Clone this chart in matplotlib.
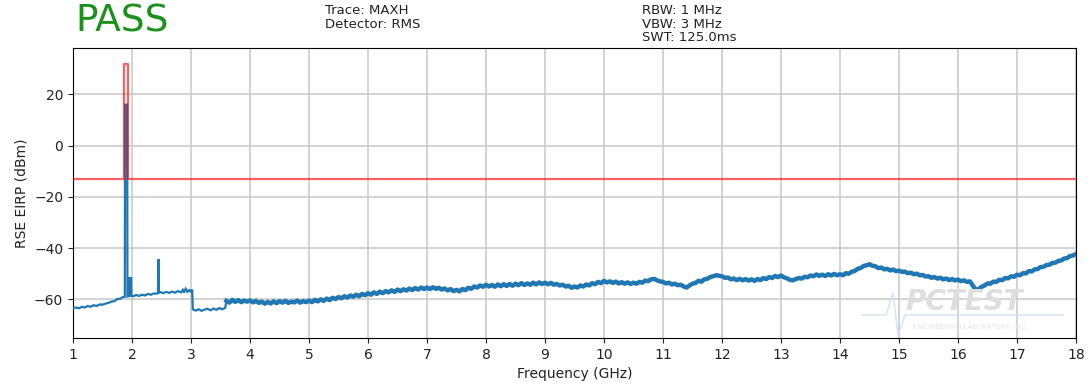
import numpy as np
import matplotlib
matplotlib.use("Agg")
import matplotlib.pyplot as plt

# --- Sweep 1-3.6 GHz (carrier region, explicit sample points) ---
freq_low_ghz = [1.00, 1.05, 1.10, 1.15, 1.20, 1.25, 1.30, 1.35, 1.40, 1.45,
                1.50, 1.55, 1.60, 1.65, 1.70, 1.75, 1.80, 1.84, 1.878, 1.883,
                1.918, 1.923, 1.935, 1.955, 1.960, 1.985, 1.990, 2.02, 2.07, 2.12,
                2.17, 2.22, 2.27, 2.32, 2.37, 2.42, 2.440, 2.448, 2.456, 2.48,
                2.53, 2.58, 2.63, 2.68, 2.73, 2.78, 2.83, 2.86, 2.88, 2.91,
                2.94, 2.97, 3.00, 3.020, 3.030, 3.08, 3.13, 3.18, 3.23, 3.28,
                3.33, 3.38, 3.43, 3.48, 3.53, 3.58]
level_low_dbm = [-63.5, -63.2, -63.5, -62.9, -63.2, -62.6, -62.9, -62.3, -62.6, -62.0,
                 -62.1, -61.7, -61.4, -60.9, -60.7, -59.9, -59.8, -59.2, -59.0, 16.0,
                 16.0, -58.9, -58.8, -58.7, -51.7, -51.7, -58.6, -58.8, -58.3, -58.7,
                 -58.2, -58.5, -57.9, -58.2, -57.7, -57.8, -57.5, -44.3, -57.4, -57.2,
                 -57.6, -57.1, -57.5, -57.0, -57.4, -56.8, -57.3, -56.3, -57.4, -55.9,
                 -57.1, -56.4, -57.0, -56.2, -63.9, -64.4, -63.9, -64.5, -64.0, -63.7,
                 -64.3, -63.6, -64.1, -63.4, -63.9, -63.3]

# --- Sweep 3.6-18 GHz, 50 MHz steps ---
level_high_dbm = [
    -60.6, -61.3, -60.2, -61.0, -60.3, -61.1, -60.5, -60.9,
    -60.4, -61.2, -60.6, -61.4, -60.9, -61.7, -61.0, -61.6, -60.8, -61.5,
    -60.7, -61.3, -60.6, -61.4, -60.9, -61.2, -60.5, -61.3, -60.7, -61.1,
    -60.5, -61.1, -60.2, -60.8, -60.0, -60.6, -59.7, -60.3, -59.4, -59.9,
    -59.1, -59.6, -58.8, -59.3, -58.5, -59.0, -58.2, -58.8, -57.9, -58.4,
    -57.6, -58.2, -57.3, -57.9, -57.0, -57.6, -56.8, -57.3, -56.5, -57.1,
    -56.2, -56.8, -56.1, -56.6, -55.8, -56.4, -55.6, -56.2, -55.4, -56.0,
    -55.4, -56.0, -55.3, -55.9, -55.5, -56.2, -55.8, -56.5, -56.0, -56.8,
    -56.3, -56.9, -56.0, -56.4, -55.5, -55.9, -55.0, -55.4, -54.6, -55.1,
    -54.3, -55.0, -54.4, -55.1, -54.2, -54.9, -54.1, -54.8, -54.0, -54.7,
    -53.9, -54.5, -53.7, -54.4, -53.8, -54.3, -53.5, -54.2, -53.4, -54.0,
    -53.5, -54.1, -53.6, -54.3, -54.0, -54.6, -54.3, -55.0, -54.7, -55.5,
    -55.0, -55.4, -54.6, -55.0, -54.2, -54.6, -53.7, -54.1, -53.2, -53.7,
    -52.8, -53.4, -53.0, -53.6, -53.1, -53.8, -53.3, -53.9, -53.4, -54.0,
    -53.5, -53.9, -53.2, -53.5, -52.7, -52.9, -52.2, -52.0, -52.6, -53.0,
    -53.2, -53.8, -53.5, -54.2, -53.9, -54.5, -54.3, -55.0, -55.4, -54.6,
    -53.9, -53.6, -52.8, -53.1, -52.2, -52.0, -51.3, -51.0, -50.6, -50.8,
    -51.0, -51.6, -51.5, -52.2, -51.9, -52.5, -52.0, -52.6, -52.1, -52.7,
    -52.2, -52.8, -52.1, -52.5, -51.7, -52.1, -51.3, -51.7, -50.9, -51.3,
    -50.7, -51.4, -51.8, -52.4, -52.6, -52.1, -51.7, -51.9, -51.2, -51.4,
    -50.7, -51.0, -50.3, -50.8, -50.4, -50.9, -50.2, -50.7, -50.1, -50.6,
    -50.2, -50.6, -49.8, -50.0, -49.2, -48.9, -48.1, -47.8, -47.0, -46.7,
    -46.3, -46.9, -47.1, -47.8, -47.6, -48.3, -48.1, -48.7, -48.4, -49.0,
    -48.8, -49.3, -49.2, -49.8, -49.6, -50.2, -50.0, -50.6, -50.5, -51.1,
    -51.0, -51.6, -51.3, -51.9, -51.6, -52.2, -51.9, -52.5, -52.1, -52.6,
    -52.3, -52.9, -52.6, -53.2, -53.0, -54.6, -56.2, -56.0, -55.1, -54.6,
    -53.8, -53.9, -53.1, -53.2, -52.4, -52.5, -51.7, -51.8, -51.0, -51.2,
    -50.4, -50.6, -49.8, -49.9, -49.0, -49.1, -48.3, -48.2, -47.4, -47.3,
    -46.6, -46.5, -45.8, -45.7, -45.0, -44.8, -44.1, -43.9, -43.1, -42.9,
    -42.3,
]
freq_high_ghz = np.linspace(3.60, 18.00, len(level_high_dbm))

# Emission limit (-13 dBm) with the fundamental-band exclusion
limit_freq_ghz = [1.0, 1.868, 1.868, 1.937, 1.937, 18.0]
limit_dbm = [-13, -13, 32, 32, -13, -13]

x_ticks = list(range(1, 19))
y_ticks = [-60, -40, -20, 0, 20]

W, H = 1088, 385
fig = plt.figure(figsize=(W / 100, H / 100), dpi=100)
ax = fig.add_axes([73 / W, 1 - 338 / H, (1076 - 73) / W, (338 - 48) / H])

trace_color = "#1f77b4"
# Low band is a clean, thin trace; above 3.6 GHz the noise floor forms a dense band
ax.plot(list(freq_low_ghz) + [freq_high_ghz[0]],
        list(level_low_dbm) + [level_high_dbm[0]],
        color=trace_color, lw=1.6, zorder=3, solid_joinstyle="miter")
ax.plot(freq_high_ghz, level_high_dbm, color=trace_color, lw=3.2, zorder=3)
ax.plot(limit_freq_ghz, limit_dbm, color="red", alpha=0.62, lw=1.6, zorder=4)

ax.set_xlim(1, 18)
ax.set_ylim(-75.1, 38.1)
ax.set_xticks(x_ticks)
ax.set_yticks(y_ticks)
ax.grid(True, color="#c8c8c8", lw=1.1)
ax.set_axisbelow(True)
ax.tick_params(labelsize=10, colors="#222222")
ax.set_xlabel("Frequency (GHz)", fontsize=10, color="#222222")
ax.set_ylabel("RSE EIRP (dBm)", fontsize=10, color="#222222")

# Header block
fig.text(75 / W, 1 - 22 / H, "PASS", color="#1a911a", fontsize=27,
         va="center", ha="left")
fig.text(325 / W, 1 - 4 / H, "Trace: MAXH\nDetector: RMS", fontsize=9.5,
         va="top", ha="left", linespacing=1.05, color="#222222")
fig.text(642 / W, 1 - 4 / H, "RBW: 1 MHz\nVBW: 3 MHz\nSWT: 125.0ms", fontsize=9.5,
         va="top", ha="left", linespacing=1.05, color="#222222")

# Lab watermark
fig.text(905 / W, 1 - 302 / H, "PCTEST", fontsize=20, fontweight="bold",
         fontstyle="italic", color="#dedede", va="center", ha="left", zorder=1)
fig.text(913 / W, 1 - 327 / H, "ENGINEERING LABORATORY, INC.", fontsize=5,
         color="#e4e4e4", va="center", ha="left", zorder=1)
pulse_x = np.array([862, 886, 893, 898, 905, 1063]) / W
pulse_y = 1 - np.array([315, 315, 293, 335, 315, 315]) / H
fig.add_artist(plt.Line2D(pulse_x, pulse_y, color="#d3e3f3", lw=1.0,
                          transform=fig.transFigure, zorder=1))

fig.savefig("out.png", dpi=100)
